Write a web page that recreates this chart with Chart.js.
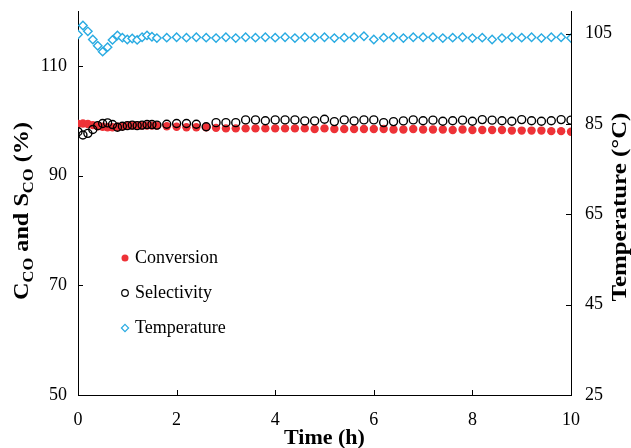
<!DOCTYPE html>
<html><head><meta charset="utf-8">
<script src="https://cdn.jsdelivr.net/npm/chart.js@4.4.0/dist/chart.umd.min.js"></script>
<style>html,body{margin:0;padding:0;background:#fff;}#wrap{width:631px;height:448px;}</style>
</head><body><div id="wrap"><canvas id="c" width="631" height="448"></canvas></div>
<script>
const timeH = [0,0.1,0.2,0.3,0.4,0.5,0.6,0.7,0.8,0.9,1.0,1.1,1.2,1.3,1.4,1.5,1.6,
  1.8,2.0,2.2,2.4,2.6,2.8,3.0,3.2,3.4,3.6,3.8,4.0,4.2,4.4,4.6,4.8,5.0,5.2,5.4,5.6,5.8,
  6.0,6.2,6.4,6.6,6.8,7.0,7.2,7.4,7.6,7.8,8.0,8.2,8.4,8.6,8.8,9.0,9.2,9.4,9.6,9.8,10.0];
const conversion = [99.4,99.5,99.4,99.2,99.0,98.9,98.8,98.8,98.9,99.0,99.1,99.1,99.1,99.1,99.1,99.1,99.1,
  99.0,98.9,98.8,98.8,98.8,98.7,98.6,98.6,98.6,98.6,98.6,98.6,98.6,98.6,98.6,98.5,98.6,98.5,98.5,98.5,98.5,
  98.5,98.5,98.4,98.4,98.5,98.4,98.4,98.4,98.3,98.4,98.3,98.3,98.3,98.3,98.2,98.2,98.2,98.2,98.1,98.1,98.0];
const selectivity = [98.0,97.4,97.7,98.4,99.1,99.5,99.6,99.3,98.8,99.0,99.1,99.2,99.1,99.2,99.3,99.3,99.2,
  99.35,99.5,99.5,99.35,98.9,99.65,99.65,99.65,100.15,100.15,100.0,100.15,100.15,100.15,99.97,99.97,100.26,99.84,100.15,99.97,100.15,
  100.15,99.66,99.84,99.97,100.15,100.0,100.1,99.9,100.0,100.1,99.9,100.2,100.1,100.0,99.9,100.2,100.0,99.9,100.0,100.2,100.1];
const temperature = [104.8,106.8,105.5,103.7,102.3,101.0,102.0,103.6,104.6,104.1,103.7,103.9,103.6,104.2,104.6,104.3,104.0,
  104.1,104.2,104.1,104.2,104.1,104.0,104.2,104.0,104.2,104.1,104.2,104.1,104.2,104.0,104.2,104.1,104.2,104.0,104.1,104.2,104.4,
  103.7,104.1,104.2,104.0,104.2,104.2,104.2,104.0,104.1,104.2,104.0,104.1,103.7,104.0,104.2,104.1,104.2,104.0,104.2,104.2,104.0];
const xTicks = [0,2,4,6,8,10];
const leftTicks = [50,70,90,110];
const rightTicks = [25,45,65,85,105];
const seriesNames = ['Conversion','Selectivity','Temperature'];

const RED = '#ee3237', BLUE = '#29abe2';
const SERIF = "'Liberation Serif','Times New Roman',serif";

function pts(ys){ return timeH.map((t,i)=>({x:t,y:ys[i]})); }

const inwardTicks = {
  id:'inwardTicks',
  afterDraw(chart){
    const {ctx, chartArea:a, scales} = chart;
    ctx.save(); ctx.strokeStyle='#000'; ctx.lineWidth=1;
    const L=5;
    xTicks.forEach(v=>{ const x=Math.round(scales.x.getPixelForValue(v))+0.5;
      ctx.beginPath(); ctx.moveTo(x,a.bottom); ctx.lineTo(x,a.bottom-L); ctx.stroke(); });
    leftTicks.forEach(v=>{ const y=Math.round(scales.y.getPixelForValue(v))+0.5;
      ctx.beginPath(); ctx.moveTo(a.left,y); ctx.lineTo(a.left+L,y); ctx.stroke(); });
    rightTicks.forEach(v=>{ const y=Math.round(scales.y1.getPixelForValue(v))+0.5;
      ctx.beginPath(); ctx.moveTo(a.right,y); ctx.lineTo(a.right-L,y); ctx.stroke(); });
    ctx.restore();
  }
};

const titles = {
  id:'titles',
  afterDraw(chart){
    const ctx=chart.ctx; const a=chart.chartArea;
    ctx.save(); ctx.fillStyle='#000';
    ctx.font = "bold 22px "+SERIF; ctx.textAlign='center'; ctx.textBaseline='alphabetic';
    ctx.fillText('Time (h)', (a.left+a.right)/2, 444);
    const big="bold 22px "+SERIF, small="bold 15px "+SERIF;
    const parts=[['C',big,0],['CO',small,5],[' and S',big,0],['CO',small,5],[' (%)',big,0]];
    let w=0; parts.forEach(p=>{ctx.font=p[1]; w+=ctx.measureText(p[0]).width;});
    ctx.translate(28, 211); ctx.rotate(-Math.PI/2); ctx.scale(1.1,1);
    ctx.textAlign='left';
    let x=-w/2; parts.forEach(p=>{ctx.font=p[1]; ctx.fillText(p[0],x,p[2]); x+=ctx.measureText(p[0]).width;});
    ctx.restore();
    ctx.save(); ctx.fillStyle='#000';
    ctx.translate(626, 207); ctx.rotate(-Math.PI/2); ctx.scale(1.13,1);
    ctx.font="bold 22px "+SERIF; ctx.textAlign='center';
    ctx.fillText('Temperature (\u00B0C)',0,0);
    ctx.restore();
  }
};

const legendPlugin = {
  id:'inLegend',
  afterDraw(chart){
    const ctx=chart.ctx;
    const ys=[258,293,328];
    ctx.save();
    ctx.font="18px "+SERIF; ctx.textBaseline='middle'; ctx.textAlign='left'; ctx.fillStyle='#000';
    chart.data.datasets.forEach((ds,i)=>{
      const y=ys[i], x=125;
      ctx.lineWidth=1.2;
      if(i===0){ ctx.fillStyle=RED; ctx.beginPath(); ctx.arc(x,y,3.5,0,Math.PI*2); ctx.fill(); }
      else if(i===1){ ctx.strokeStyle='#000'; ctx.beginPath(); ctx.arc(x,y,3.3,0,Math.PI*2); ctx.stroke(); }
      else { ctx.strokeStyle=BLUE; ctx.beginPath(); ctx.moveTo(x,y-3.6); ctx.lineTo(x+3.6,y); ctx.lineTo(x,y+3.6); ctx.lineTo(x-3.6,y); ctx.closePath(); ctx.stroke(); }
      ctx.fillStyle='#000';
      ctx.fillText(seriesNames[i], x+10, y);
    });
    ctx.restore();
  }
};

function noPadV(s){ s.paddingTop=0; s.paddingBottom=0; }
new Chart(document.getElementById('c'), {
  type:'scatter',
  data:{ datasets:[
    {label:seriesNames[0], data:pts(conversion), yAxisID:'y', pointStyle:'circle', pointRadius:4.2,
      backgroundColor:RED, borderColor:RED, borderWidth:0, order:2},
    {label:seriesNames[1], data:pts(selectivity), yAxisID:'y', pointStyle:'circle', pointRadius:4,
      backgroundColor:'rgba(255,255,255,0)', borderColor:'#000', borderWidth:1.4, order:1},
    {label:seriesNames[2], data:pts(temperature), yAxisID:'y1', pointStyle:'rectRot', pointRadius:4.2,
      backgroundColor:'#fff', borderColor:BLUE, borderWidth:1.4, order:3}
  ]},
  options:{
    responsive:false, animation:false, devicePixelRatio:1,
    layout:{padding:{top:11,left:0,right:0,bottom:0}},
    plugins:{legend:{display:false}, tooltip:{enabled:false}},
    scales:{
      x:{type:'linear', min:0, max:10,
        afterBuildTicks:s=>{s.ticks=xTicks.map(v=>({value:v}));},
        afterFit:s=>{s.height=53; s.paddingLeft=0; s.paddingRight=0;},
        grid:{display:false, drawTicks:false},
        border:{display:true,color:'#000',width:1},
        ticks:{color:'#000', padding:14, maxRotation:0, font:{family:SERIF,size:18}}},
      y:{position:'left', min:50, max:120,
        afterBuildTicks:s=>{s.ticks=leftTicks.map(v=>({value:v}));},
        afterFit:s=>{s.width=78; noPadV(s);},
        grid:{display:false, drawTicks:false},
        border:{display:true,color:'#000',width:1},
        ticks:{color:'#000', padding:11, font:{family:SERIF,size:18}}},
      y1:{position:'right', min:25, max:110,
        afterBuildTicks:s=>{s.ticks=rightTicks.map(v=>({value:v}));},
        afterFit:s=>{s.width=60; noPadV(s);},
        grid:{display:false, drawTicks:false},
        border:{display:true,color:'#000',width:1},
        ticks:{color:'#000', padding:14, font:{family:SERIF,size:18}}}
    }
  },
  plugins:[inwardTicks, titles, legendPlugin]
});
</script></body></html>
